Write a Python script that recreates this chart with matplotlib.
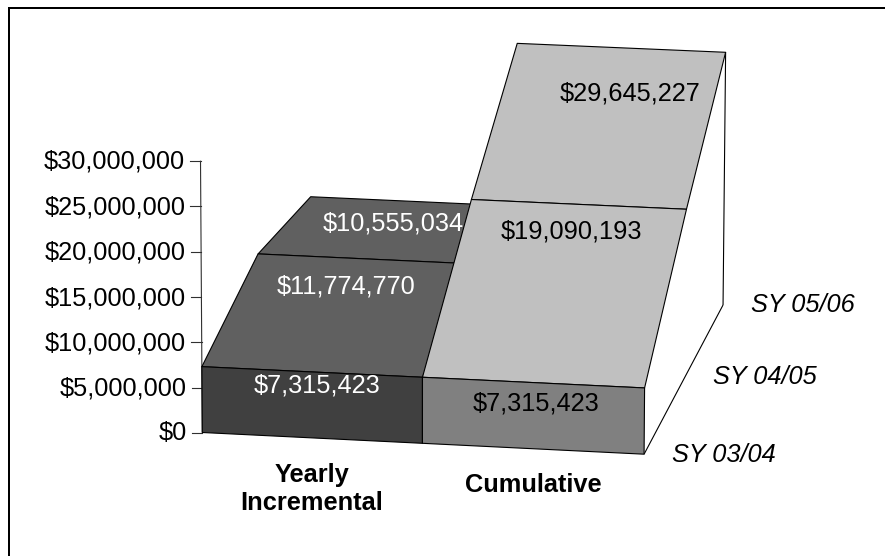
import matplotlib
matplotlib.use("Agg")
import matplotlib.pyplot as plt
from matplotlib.patches import Polygon

plt.rcParams['font.family'] = ['Liberation Sans', 'DejaVu Sans']

# ---- data ----
categories = ["Yearly\nIncremental", "Cumulative"]
seasons = ["SY 03/04", "SY 04/05", "SY 05/06"]
yearly = [7315423, 11774770, 10555034]
cumulative = [7315423, 19090193, 29645227]
tick_values = [0, 5000000, 10000000, 15000000, 20000000, 25000000, 30000000]
axis_max = 30000000

DARK_TOP, DARK_FRONT = "#606060", "#404040"
LIGHT_TOP, LIGHT_FRONT = "#c0c0c0", "#808080"
LW = 0.8
FS = 18.3


def project(x, d, value):
    """Perspective camera: category position x, depth d, value in dollars -> pixels."""
    v = value / 1e6
    w = 1 - 0.0034 * x + 0.0367 * d - 0.00029 * v
    px = (202.3 + 218.7 * x + 65.75 * d - 0.118 * v) / w
    py = (432.5 + 9.3 * x - 62.9 * d - 9.107 * v) / w
    return px, py


def money(n):
    return f"${n:,}"


fig = plt.figure(figsize=(8.85, 5.56), dpi=100)
ax = fig.add_axes([0, 0, 1, 1])
ax.set_xlim(0, 885)
ax.set_ylim(556, 0)
ax.axis("off")

# frame: only the top and left edges show
ax.plot([9, 9, 885], [556, 8, 8], color="black", lw=1.44, zorder=1,
        solid_joinstyle="miter", solid_capstyle="butt")


def face(points, color, z):
    ax.add_patch(Polygon([project(*p) for p in points], closed=True, fc=color,
                         ec="black", lw=LW, joinstyle="round", zorder=z))


def line(a, b, z=2, color="black"):
    pa, pb = project(*a), project(*b)
    ax.plot([pa[0], pb[0]], [pa[1], pb[1]], color=color, lw=LW, zorder=z,
            solid_capstyle="butt")


# value axis and ticks
line((0, 0, 0), (0, 0, axis_max), color="#303030")
for t in tick_values:
    px, py = project(0, 0, t)
    ax.plot([px - 10.5, px], [py, py], color="#303030", lw=LW, zorder=2)
    ax.text(px - 15.5, py - 1.5, money(t), ha="right", va="center_baseline",
            fontsize=FS, color="black")

# right floor edge and back wall edge
line((2, 0, 0), (2, 2, 0))
line((2, 2, 0), (2, 2, cumulative[2]))

# surfaces, back to front, left category before right one
z = 3
for x0, series, top, front in [(0, yearly, DARK_TOP, DARK_FRONT),
                               (1, cumulative, LIGHT_TOP, LIGHT_FRONT)]:
    x1 = x0 + 1
    for d in (1, 0):
        face([(x0, d, series[d]), (x1, d, series[d]),
              (x1, d + 1, series[d + 1]), (x0, d + 1, series[d + 1])], top, z)
        z += 1
    face([(x0, 0, 0), (x1, 0, 0), (x1, 0, series[0]), (x0, 0, series[0])], front, z)
    z += 1

# data labels
for xy, val in zip([(317, 383), (346, 284), (393, 221)], yearly):
    ax.text(*xy, money(val), ha="center", va="center_baseline", fontsize=FS, color="white", zorder=20)
for xy, val in zip([(536, 401), (571, 229), (630, 91)], cumulative):
    ax.text(*xy, money(val), ha="center", va="center_baseline", fontsize=FS, color="black", zorder=20)

# category labels
for xy, c in zip([(312, 489), (533, 485)], categories):
    ax.text(*xy, c, ha="center", va="center", fontsize=FS, fontweight="bold",
            linespacing=1.16, color="black", zorder=20)

# depth labels
for xy, s in zip([(672, 452), (713, 375), (751, 303)], seasons):
    ax.text(*xy, s, ha="left", va="center_baseline", fontsize=FS, style="italic", color="black", zorder=20)

fig.savefig("out.png", dpi=100)
